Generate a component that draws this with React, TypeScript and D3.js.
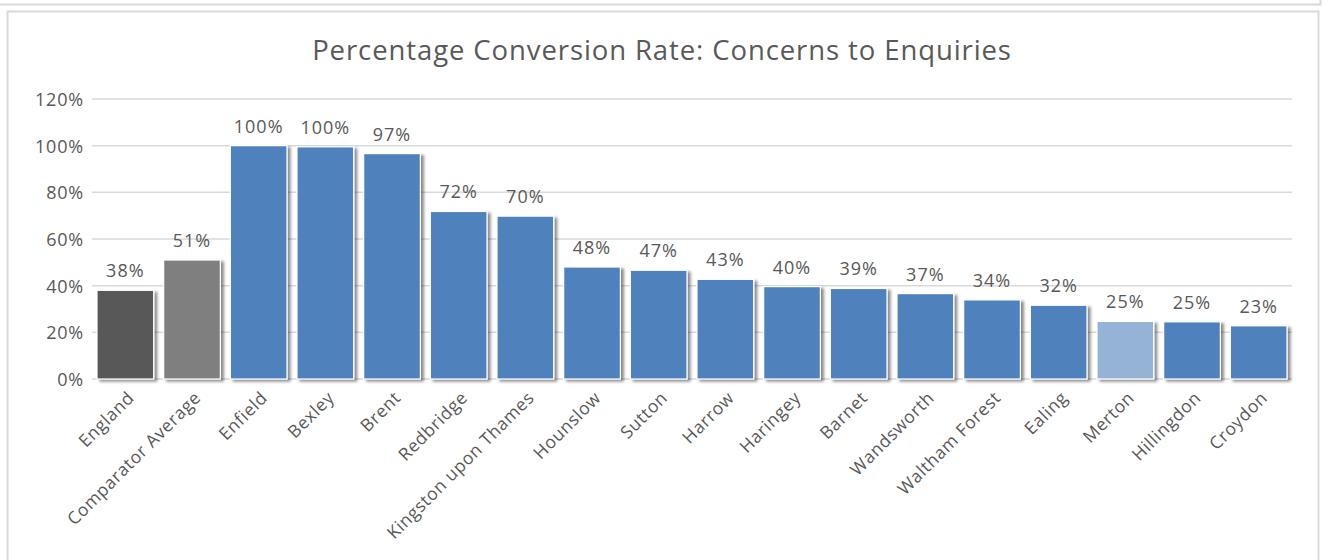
import * as d3 from 'd3'
import { useEffect, useRef } from 'react'

const W = 1325
const H = 560
const MARGIN = { top: 99, right: 33, bottom: 181, left: 92 }

const categories = [
  'England', 'Comparator Average', 'Enfield', 'Bexley', 'Brent', 'Redbridge',
  'Kingston upon Thames', 'Hounslow', 'Sutton', 'Harrow', 'Haringey', 'Barnet',
  'Wandsworth', 'Waltham Forest', 'Ealing', 'Merton', 'Hillingdon', 'Croydon',
]
const values = [38, 51, 100, 99.5, 96.6, 71.8, 69.8, 48, 46.6, 42.7, 39.6, 38.8, 36.6, 33.9, 31.6, 24.7, 24.5, 22.8]
const yTicks = [0, 20, 40, 60, 80, 100, 120]
const barColors: Record<string, string> = {
  England: '#595959',
  'Comparator Average': '#7f7f7f',
  Merton: '#95b3d7',
}
const defaultColor = '#4f81bd'
const TITLE = 'Percentage Conversion Rate: Concerns to Enquiries'
const FONT = '"Open Sans", "Noto Sans", sans-serif'
const TEXT = '#595959'

export default function App() {
  const svgRef = useRef<SVGSVGElement>(null)

  useEffect(() => {
    if (!svgRef.current) return
    const svg = d3.select(svgRef.current)
    svg.selectAll('*').remove()

    const x0 = MARGIN.left
    const x1 = W - MARGIN.right
    const y0 = H - MARGIN.bottom
    const y1 = MARGIN.top

    const x = d3.scaleBand().domain(categories).range([x0, x1]).paddingInner(0.15).paddingOuter(0.075)
    const y = d3.scaleLinear().domain([0, 120]).range([y0, y1])

    const defs = svg.append('defs')
    const f = defs.append('filter').attr('id', 'shadow').attr('x', '-10%').attr('y', '-10%').attr('width', '130%').attr('height', '130%')
    f.append('feDropShadow').attr('dx', 3).attr('dy', 2).attr('stdDeviation', 1.6)
      .attr('flood-color', '#000').attr('flood-opacity', 0.45)

    svg.append('rect').attr('width', W).attr('height', H).attr('fill', '#fff')

    // outer frames
    svg.append('path').attr('d', `M0,4.5 H1320.5 V-1`).attr('fill', 'none').attr('stroke', '#d9d9d9').attr('stroke-width', 2)
    svg.append('rect').attr('x', 7.5).attr('y', 11.5).attr('width', 1311).attr('height', H + 10)
      .attr('fill', '#fff').attr('stroke', '#d9d9d9').attr('stroke-width', 2)

    svg.append('text')
      .attr('x', 662).attr('y', 60)
      .attr('text-anchor', 'middle')
      .attr('font-family', FONT).attr('font-size', 27.5).attr('letter-spacing', 0.9).attr('fill', TEXT)
      .text(TITLE)

    // gridlines
    svg.append('g').selectAll('line').data(yTicks).enter().append('line')
      .attr('x1', x0).attr('x2', x1)
      .attr('y1', d => y(d)).attr('y2', d => y(d))
      .attr('stroke', '#d9d9d9').attr('stroke-width', 1.5)

    svg.append('g').selectAll('text').data(yTicks).enter().append('text')
      .attr('x', x0 - 8).attr('y', d => y(d))
      .attr('text-anchor', 'end').attr('dominant-baseline', 'central')
      .attr('font-family', FONT).attr('font-size', 18).attr('letter-spacing', 0.8).attr('fill', TEXT)
      .text(d => `${d}%`)

    const data = categories.map((c, i) => ({ c, v: values[i] }))

    svg.append('g').selectAll('rect').data(data).enter().append('rect')
      .attr('x', d => x(d.c)!)
      .attr('y', d => y(d.v))
      .attr('width', x.bandwidth())
      .attr('height', d => y0 - y(d.v))
      .attr('fill', d => barColors[d.c] || defaultColor)
      .attr('stroke', '#fff').attr('stroke-width', 1.2)
      .attr('filter', 'url(#shadow)')

    svg.append('g').selectAll('text').data(data).enter().append('text')
      .attr('x', d => x(d.c)! + x.bandwidth() / 2)
      .attr('y', d => y(d.v) - 13)
      .attr('text-anchor', 'middle')
      .attr('font-family', FONT).attr('font-size', 18).attr('letter-spacing', 1).attr('fill', TEXT)
      .text(d => `${Math.round(d.v)}%`)

    svg.append('g').selectAll('text').data(categories).enter().append('text')
      .attr('transform', d => `translate(${x(d)! + x.bandwidth() / 2 + 5},${y0 + 15}) rotate(-45)`)
      .attr('text-anchor', 'end').attr('dominant-baseline', 'central')
      .attr('font-family', FONT).attr('font-size', 17.5).attr('letter-spacing', 0.6).attr('fill', TEXT)
      .text(d => d)
  }, [])

  return (
    <div style={{ position: 'absolute', left: 0, top: 0, width: W, height: H }}>
      <svg ref={svgRef} width={W} height={H} style={{ display: 'block' }} />
    </div>
  )
}
